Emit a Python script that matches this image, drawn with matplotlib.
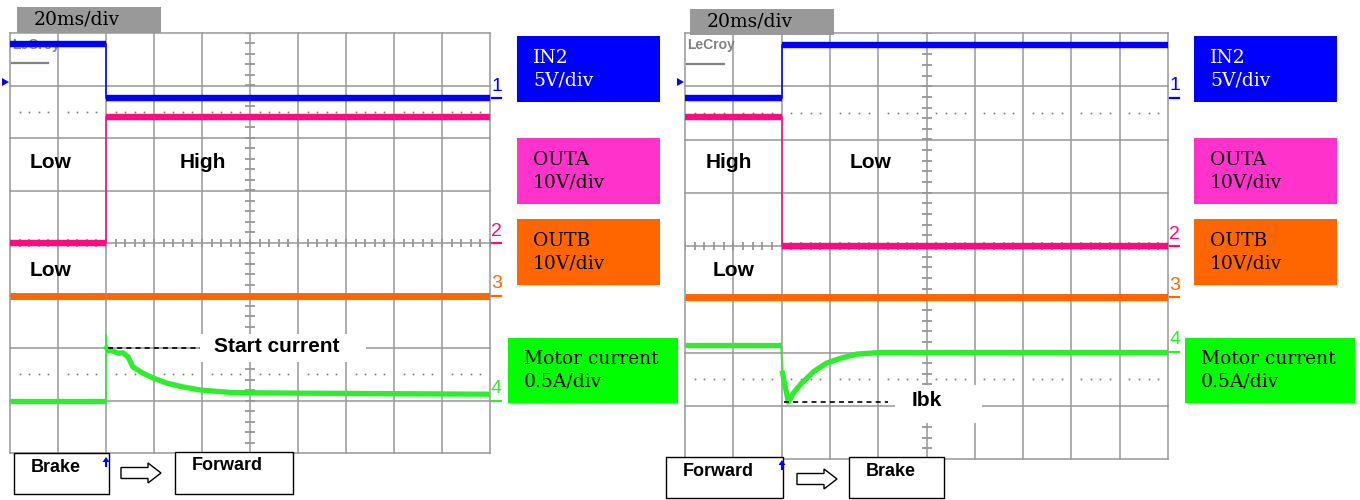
import numpy as np
import matplotlib
matplotlib.use("Agg")
from matplotlib import pyplot as plt
import matplotlib.transforms as mtransforms
from matplotlib.patches import Rectangle, Polygon, FancyArrow

W, H = 1360, 500

# trace levels in divisions (8 div high, 10 div wide), step at 2 div
step_div = 2.0

# left capture: Brake -> Forward
left_in2 = [3.79, 2.76]
left_outa = [0.0, 2.4]
left_outb = [-1.0, -1.0]
left_cur_x = [0, 2.0, 2.0, 2.01, 2.05, 2.15, 2.25, 2.35, 2.46, 2.56, 2.77, 2.98, 3.27, 3.6, 3.96, 4.65, 6.04, 10]
left_cur_y = [-3.0, -3.0, -1.75, -2.0, -2.05, -2.06, -2.1, -2.09, -2.17, -2.36, -2.48, -2.57, -2.67, -2.74, -2.8, -2.85, -2.86, -2.88]
left_refs = [2.76, 0.0, -1.0, -3.0]

# right capture: Forward -> Brake
right_in2 = [2.78, 3.78]
right_outa = [2.42, 0.0]
right_outb = [-0.96, -0.96]
right_cur_x = [0, 1.99, 2.0, 2.02, 2.14, 2.24, 2.38, 2.66, 2.93, 3.21, 3.55, 4.04, 10]
right_cur_y = [-1.86, -1.86, -2.1, -2.39, -2.93, -2.77, -2.61, -2.36, -2.2, -2.11, -2.03, -2.0, -2.0]
right_refs = [2.78, 0.0, -0.96, -1.99]

channels = ["IN2\n5V/div", "OUTA\n10V/div", "OUTB\n10V/div", "Motor current\n0.5A/div"]
trace_colors = ["#0000ff", "#ff0a80", "#ff6600", "#2cee2c"]
box_colors = ["#0000ff", "#ff33cc", "#ff6600", "#00ff00"]
box_text = ["white", "black", "black", "black"]
grid_c = "#979797"

fig = plt.figure(figsize=(13.6, 5), dpi=100)
pix = mtransforms.Affine2D().scale(1 / W, -1 / H).translate(0, 1) + fig.transFigure

SANS = "Liberation Sans"
SERIF = "DejaVu Serif"


def step_trace(ax, levels, color, lw):
    ax.plot([0, step_div], [levels[0]] * 2, color=color, lw=lw, solid_capstyle="butt", zorder=5)
    ax.plot([step_div, 10], [levels[1]] * 2, color=color, lw=lw, solid_capstyle="butt", zorder=5)
    ax.plot([step_div, step_div], levels, color=color, lw=1.1, zorder=5)


def draw_scope(box, in2, outa, outb, cur_x, cur_y, thin, refs):
    x0, y0, x1, y1 = box
    ax = fig.add_axes([x0 / W, 1 - y1 / H, (x1 - x0) / W, (y1 - y0) / H])
    ax.set_xlim(0, 10)
    ax.set_ylim(-4, 4)
    ax.axis("off")
    for i in range(11):
        ax.axvline(i, color=grid_c, lw=1.1, clip_on=False, zorder=1)
    for j in range(-4, 5):
        ax.axhline(j, color=grid_c, lw=1.1, clip_on=False, zorder=1)
    # centre cross ticks
    yt = np.arange(-4, 4.01, 0.2)
    xt = np.arange(0, 10.01, 0.2)
    ax.plot(np.full_like(yt, 5), yt, ls="none", marker="_", ms=7.5, mew=1.3, color=grid_c, zorder=1)
    ax.plot(xt, np.zeros_like(xt), ls="none", marker="|", ms=6, mew=1.3, color=grid_c, zorder=1)
    # dotted lines
    xd = [k * 0.2 for k in range(51) if k % 5 != 0]
    for yy in (2.5, -2.5):
        ax.plot(xd, [yy] * len(xd), ls="none", marker="s", ms=1.2, mew=0, color="#777777", zorder=1)
    # logo
    ax.text(0.04, 3.9, "LeCroy", fontsize=10, fontweight="bold", color="#828282", family=SANS,
            va="top", ha="left", zorder=2)
    ax.plot([0.05, 0.8], [3.42, 3.42], color="#828282", lw=1.6, zorder=2)

    step_trace(ax, in2, trace_colors[0], 4.6)
    step_trace(ax, outa, trace_colors[1], 4.6)
    step_trace(ax, outb, trace_colors[2], 5.0)
    c = trace_colors[3]
    ax.plot(cur_x[:2], cur_y[:2], color=c, lw=3.8, solid_capstyle="butt", zorder=5)
    ax.plot(cur_x[1:thin + 1], cur_y[1:thin + 1], color=c, lw=1.2, zorder=5)
    ax.plot(cur_x[thin:], cur_y[thin:], color=c, lw=3.8, solid_joinstyle="round", zorder=5)

    for n, lvl in enumerate(refs):
        ax.plot([10.05, 10.22], [lvl, lvl], color=trace_colors[n], lw=1.6, clip_on=False, zorder=6)
        ax.annotate(str(n + 1), xy=(10.135, lvl), xytext=(0, 2.5), textcoords="offset points",
                    ha="center", va="bottom", fontsize=14, family=SANS, color=trace_colors[n],
                    annotation_clip=False, zorder=6)
    return ax


axL = draw_scope((10, 33, 490, 453), left_in2, left_outa, left_outb,
                 left_cur_x, left_cur_y, 3, left_refs)
axR = draw_scope((685, 33, 1168, 459), right_in2, right_outa, right_outb,
                 right_cur_x, right_cur_y, 3, right_refs)

# annotations inside the grids
axL.plot([2.04, 3.96], [-2.0, -2.0], color="black", lw=1.2, ls=(0, (3, 2.5)), zorder=7)
axL.add_patch(Rectangle((200, 334), 166, 28, transform=pix, facecolor="white", edgecolor="none", zorder=6))
fig.text(214, 347, "Start current", transform=pix, fontsize=15, fontweight="bold", family=SANS,
         va="center", ha="left")
axR.plot([2.06, 4.2], [-2.93, -2.93], color="black", lw=1.2, ls=(0, (3, 2.5)), zorder=7)
axR.add_patch(Rectangle((895, 385), 87, 38, transform=pix, facecolor="white", edgecolor="none", zorder=6))
fig.text(912, 401, "Ibk", transform=pix, fontsize=15, fontweight="bold", family=SANS,
         va="center", ha="left")

for x, y, s in [(30, 163, "Low"), (180, 163, "High"), (30, 270, "Low"),
                (706, 163, "High"), (850, 163, "Low"), (713, 270, "Low")]:
    fig.text(x, y, s, transform=pix, fontsize=15, fontweight="bold", family=SANS,
             va="center", ha="left", zorder=8)

# timebase boxes
for x, y in [(17, 7), (690, 9)]:
    fig.add_artist(Rectangle((x, y), 144, 26, transform=pix, facecolor="#999999", edgecolor="none"))
    fig.text(x + 17, y + 13, "20ms/div", transform=pix, fontsize=13.5, family=SERIF,
             va="center", ha="left")

# channel legend boxes
rows = [(36, 102), (138, 204), (219, 285), (338, 403)]
for bx, wide in [(517, 508), (1194, 1185)]:
    for k, (ya, yb) in enumerate(rows):
        if k == 3:
            xa, w = wide, 170
        else:
            xa, w = bx, 143
        fig.add_artist(Rectangle((xa, ya), w, yb - ya, transform=pix,
                                 facecolor=box_colors[k], edgecolor="none"))
        fig.text(xa + 16, (ya + yb) / 2, channels[k], transform=pix, fontsize=13.5, family=SERIF,
                 color=box_text[k], va="center", ha="left", linespacing=1.3)

# bottom state boxes
states = [((14, 453, 95, 41), "Brake"), ((175, 452, 118, 42), "Forward"),
          ((666, 457, 117, 41), "Forward"), ((849, 457, 95, 41), "Brake")]
for (x, y, w, h), s in states:
    fig.add_artist(Rectangle((x, y), w, h, transform=pix, facecolor="white",
                             edgecolor="black", lw=1.0, zorder=3))
    fig.text(x + 17, y + 14, s, transform=pix, fontsize=13, fontweight="bold", family=SANS,
             va="center", ha="left", zorder=4)

for x, y in [(121, 473), (797, 479)]:
    fig.add_artist(FancyArrow(x, y, 40, 0, width=11, head_width=20, head_length=13,
                              length_includes_head=True, transform=pix, facecolor="white",
                              edgecolor="black", lw=1.0, zorder=4))

# trigger markers
for x, y in [(106, 457), (782, 460)]:
    fig.add_artist(Polygon([(x - 3.5, y + 5), (x + 3.5, y + 5), (x, y)], closed=True,
                           transform=pix, facecolor="#0000ff", edgecolor="none", zorder=9))
    fig.add_artist(plt.Line2D([x, x], [y + 3, y + 9], transform=pix, color="#0000ff", lw=1.5, zorder=9))
for x in (2, 677):
    fig.add_artist(Polygon([(x, 78), (x, 86), (x + 7, 82)], closed=True, transform=pix,
                           facecolor="#0000ff", edgecolor="none", zorder=9))

fig.savefig("out.png", dpi=100)
